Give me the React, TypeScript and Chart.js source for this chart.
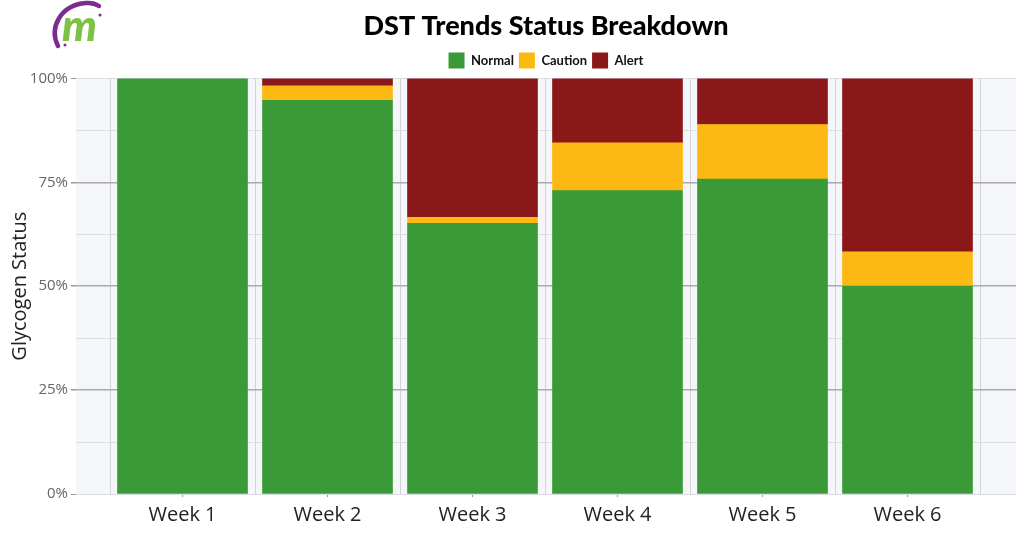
import React, { useEffect, useRef } from "react";
import { Chart, registerables } from "chart.js";

Chart.register(...registerables);

const categories = ["Week 1", "Week 2", "Week 3", "Week 4", "Week 5", "Week 6"];
const normalValues = [100, 94.7, 65.1, 73.0, 75.8, 50.0];
const cautionValues = [0, 3.5, 1.5, 11.5, 13.1, 8.3];
const alertValues = [0, 1.8, 33.4, 15.5, 11.1, 41.7];
const yTickValues = [0, 25, 50, 75, 100];

const GREEN = "#3b9a38";
const YELLOW = "#fdb913";
const RED = "#8b1819";

const bgPlugin = {
  id: "plotBg",
  beforeDraw(chart: any) {
    const { ctx, chartArea } = chart;
    if (!chartArea) return;
    ctx.save();
    ctx.fillStyle = "#f5f6fa";
    ctx.fillRect(chartArea.left, chartArea.top, chartArea.right - chartArea.left, chartArea.bottom - chartArea.top);
    ctx.restore();
  },
};

export default function App() {
  const ref = useRef<HTMLCanvasElement | null>(null);

  useEffect(() => {
    if (!ref.current) return;
    const toPoints = (arr: number[]) => arr.map((v, i) => ({ x: i, y: v === 0 ? null : v }));
    const xMin = -0.5 - 34 / 145;
    const xMax = categories.length - 0.5 + 36 / 145;
    const chart = new Chart(ref.current, {
      type: "bar",
      data: {
        datasets: [
          { label: "Normal", data: toPoints(normalValues), backgroundColor: GREEN },
          { label: "Caution", data: toPoints(cautionValues), backgroundColor: YELLOW },
          { label: "Alert", data: toPoints(alertValues), backgroundColor: RED },
        ],
      },
      options: {
        animation: false,
        responsive: true,
        maintainAspectRatio: false,
        layout: { padding: { left: 0, right: 14, top: 0, bottom: 7 } },
        datasets: { bar: { barThickness: 130, borderWidth: 0 } },
        plugins: {
          title: {
            display: true,
            text: "DST Trends Status Breakdown",
            color: "#000",
            font: { family: "Lato", size: 27, weight: "900" },
            padding: { top: 10, bottom: 5 },
            fullSize: false,
          },
          legend: {
            display: true,
            position: "top",
            fullSize: false,
            labels: {
              boxWidth: 16,
              boxHeight: 16,
              padding: 5,
              color: "#111",
              font: { family: "Lato", size: 13, weight: "bold" },
            },
          },
          tooltip: { enabled: false },
        },
        scales: {
          x: {
            type: "linear",
            min: xMin,
            max: xMax,
            offset: false,
            stacked: true,
            afterBuildTicks: (s: any) => {
              s.ticks = categories.concat([""]).map((_, i) => ({ value: i - 0.5 }));
            },
            ticks: { display: false },
            grid: { color: "#d3d4da", drawTicks: false, lineWidth: 1, offset: false },
            border: { display: false },
          },
          xLabels: {
            type: "linear",
            position: "bottom",
            min: xMin,
            max: xMax,
            offset: false,
            afterBuildTicks: (s: any) => {
              s.ticks = categories.map((_, i) => ({ value: i }));
            },
            ticks: {
              autoSkip: false,
              maxRotation: 0,
              padding: 6,
              color: "#222",
              font: { family: "Open Sans", size: 20 },
              callback: (v: any) => categories[Math.round(Number(v))] ?? "",
            },
            grid: { drawOnChartArea: false, drawTicks: true, tickLength: 3, color: "#999", offset: false },
            border: { display: false },
          },
          y: {
            stacked: true,
            min: 0,
            max: 100,
            afterFit: (s: any) => {
              s.width = 76;
            },
            ticks: {
              stepSize: 12.5,
              padding: 3,
              color: "#666",
              font: { family: "Open Sans", size: 15 },
              callback: (v: any) => (yTickValues.includes(Number(v)) ? `${v}%` : ""),
            },
            grid: {
              color: (c: any) => {
                const v = c.tick?.value;
                return v === 25 || v === 50 || v === 75 ? "#aaaab0" : "#dcdde2";
              },
              tickColor: (c: any) => (yTickValues.includes(c.tick?.value) ? "#999" : "rgba(0,0,0,0)"),
              tickLength: 5,
              lineWidth: (c: any) => {
                const v = c.tick?.value;
                return v === 25 || v === 50 || v === 75 ? 1.5 : 1;
              },
            },
            border: { display: false },
            title: {
              display: true,
              text: "Glycogen Status",
              color: "#222",
              font: { family: "Open Sans", size: 20 },
              padding: { top: 8, bottom: 0 },
            },
          },
        },
      } as any,
      plugins: [bgPlugin],
    });
    return () => chart.destroy();
  }, []);

  return (
    <div style={{ position: "fixed", left: 0, top: 0, width: 1030, height: 540, background: "#fff" }}>
      <canvas ref={ref} />
      <svg
        width="70"
        height="55"
        viewBox="0 0 70 55"
        style={{ position: "absolute", left: 46, top: 0 }}
      >
        <path
          d="M12 46 C 3 28, 14 5, 40 3 C 46 2.5, 50 4, 53 6"
          fill="none"
          stroke="#7b2c8f"
          strokeWidth="4.5"
          strokeLinecap="round"
        />
        <text
          x="16"
          y="41"
          fill="#7dc242"
          fontFamily="Lato"
          fontWeight="900"
          fontStyle="italic"
          fontSize="44"
        >
          m
        </text>
        <circle cx="54" cy="15" r="1.5" fill="#7b2c8f" />
        <circle cx="19" cy="45" r="1.5" fill="#7b2c8f" />
      </svg>
    </div>
  );
}
